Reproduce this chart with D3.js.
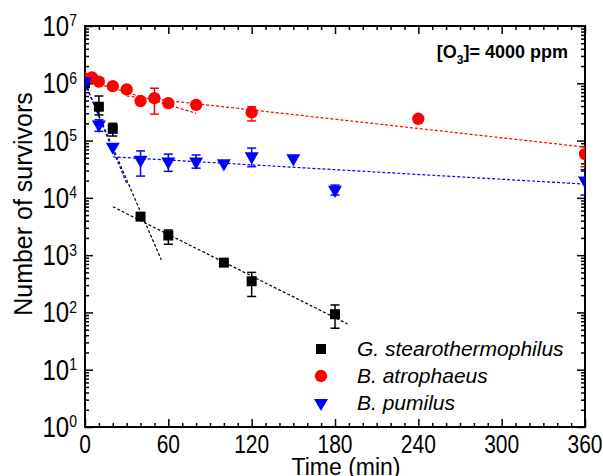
<!DOCTYPE html>
<html>
<head>
<meta charset="utf-8">
<script src="https://cdn.jsdelivr.net/npm/d3@7"></script>
<style>
  body { margin: 0; background: #fff; }
  svg { display: block; font-family: "Liberation Sans", Arial, sans-serif; }
  .axis path, .axis line { stroke: #000; }
</style>
</head>
<body>
<div id="plot"></div>
<script>
// time points (min) and survivor counts
var gTime = [0, 10, 20, 40, 60, 100, 120, 180]
var gN    = [1.0e6, 3.9e5, 1.6e5, 4.7e3, 2.2e3, 7.4e2, 3.5e2, 93]
var gLo   = [null, 2.8e5, 1.2e5, null, 1.55e3, null, 1.9e2, 53]
var gHi   = [null, 6.0e5, 2.0e5, null, 2.75e3, null, 5.0e2, 135]

var aTime = [0, 5, 10, 20, 30, 40, 50, 60, 80, 120, 240, 360]
var aN    = [1.2e6, 1.27e6, 1.07e6, 8.9e5, 7.8e5, 4.9e5, 5.5e5, 4.5e5, 4.2e5, 3.1e5, 2.4e5, 5.8e4]
var aLo   = [null, null, null, null, null, null, 2.9e5, null, null, 2.2e5, null, 3.5e4]
var aHi   = [null, null, null, null, null, null, 8.2e5, null, null, 3.9e5, null, 7.8e4]

var pTime = [0, 10, 20, 40, 60, 80, 100, 120, 150, 180, 360]
var pN    = [1.07e6, 1.9e5, 7.8e4, 4.6e4, 4.3e4, 4.3e4, 4.0e4, 5.3e4, 4.9e4, 1.38e4, 2.0e4]
var pLo   = [null, 1.45e5, null, 2.4e4, 2.9e4, 3.3e4, null, 3.5e4, null, 1.12e4, 1.12e4]
var pHi   = [null, 2.3e5, null, 6.6e4, 5.8e4, 5.6e4, null, 7.4e4, null, 1.67e4, 3.1e4]

// fitted lines, [time, N] end points
var gFits = [[[0, 1.0e6], [55, 8.2e2]], [[20, 7.0e3], [189, 63]]]
var aFits = [[[0, 1.15e6], [80, 3.0e5]], [[30, 6.0e5], [360, 7.7e4]]]
var pFits = [[[0, 1.0e6], [30, 1.8e4]], [[20, 5.2e4], [360, 1.74e4]]]

var xTicks = [0, 60, 120, 180, 240, 300, 360]
var yExp = [0, 1, 2, 3, 4, 5, 6, 7]
var names = ["G. stearothermophilus", "B. atrophaeus", "B. pumilus"]

function pack(t, n, lo, hi) {
    return t.map(function(d, i) { return { t: d, n: n[i], lo: lo[i], hi: hi[i] } })
}

var series = [
    { name: names[1], color: "#ff0000", shape: d3.symbolCircle, size: 120, pts: pack(aTime, aN, aLo, aHi), fits: aFits },
    { name: names[0], color: "#000000", shape: d3.symbolSquare, size: 100, pts: pack(gTime, gN, gLo, gHi), fits: gFits },
    { name: names[2], color: "#0000ff", shape: d3.symbolTriangle, size: 85, pts: pack(pTime, pN, pLo, pHi), fits: pFits }
]

var w = 603
var h = 476
// plot frame edges
var pLeft = 85, pRight = 585, pTop = 26, pBottom = 427
// tick labels are a little taller than wide in the original
var stretch = 1.2

var svg = d3.select("#plot").append("svg").attr("width", w).attr("height", h)

var x = d3.scaleLinear().domain([0, 360]).range([pLeft, pRight])
var y = d3.scaleLog().domain([1, 1e7]).range([pBottom, pTop])

// minor ticks
var xMinor = d3.range(0, 361, 10).filter(function(d) { return d % 60 != 0 })
var yMinor = []
yExp.slice(0, -1).forEach(function(e) {
    for (var k = 2; k < 10; k++) yMinor.push(k * Math.pow(10, e))
})
var yMajor = yExp.map(function(e) { return Math.pow(10, e) })

function axisGroup(axis, tr) {
    var g = svg.append("g").attr("class", "axis").attr("transform", tr).call(axis)
    g.selectAll("text").remove()
    g.select(".domain").remove()
    g.selectAll("line").attr("stroke-width", 1.5)
    return g
}

axisGroup(d3.axisBottom(x).tickValues(xTicks).tickSize(-8).tickSizeOuter(0), "translate(0," + pBottom + ")")
axisGroup(d3.axisBottom(x).tickValues(xMinor).tickSize(-4).tickSizeOuter(0), "translate(0," + pBottom + ")")
axisGroup(d3.axisTop(x).tickValues(xTicks).tickSize(-8).tickSizeOuter(0), "translate(0," + pTop + ")")
axisGroup(d3.axisTop(x).tickValues(xMinor).tickSize(-4).tickSizeOuter(0), "translate(0," + pTop + ")")
axisGroup(d3.axisLeft(y).tickValues(yMajor).tickSize(-8).tickSizeOuter(0), "translate(" + pLeft + ",0)")
axisGroup(d3.axisLeft(y).tickValues(yMinor).tickSize(-4).tickSizeOuter(0), "translate(" + pLeft + ",0)")
axisGroup(d3.axisRight(y).tickValues(yMajor).tickSize(-8).tickSizeOuter(0), "translate(" + pRight + ",0)")
axisGroup(d3.axisRight(y).tickValues(yMinor).tickSize(-4).tickSizeOuter(0), "translate(" + pRight + ",0)")

// frame
svg.append("rect")
    .attr("x", pLeft).attr("y", pTop)
    .attr("width", pRight - pLeft).attr("height", pBottom - pTop)
    .attr("fill", "none").attr("stroke", "#000").attr("stroke-width", 2)

// x tick labels
svg.selectAll(".xlab").data(xTicks).enter().append("text")
    .attr("class", "xlab")
    .attr("transform", function(d) { return "translate(" + x(d) + "," + (pBottom + 26) + ") scale(1," + stretch + ")" })
    .attr("text-anchor", "middle")
    .attr("font-size", 21)
    .text(function(d) { return d })

// y tick labels 10^n
var ylab = svg.selectAll(".ylab").data(yExp).enter().append("text")
    .attr("class", "ylab")
    .attr("transform", function(d) { return "translate(" + (pLeft - 8) + "," + (y(Math.pow(10, d)) + 10) + ") scale(1," + stretch + ")" })
    .attr("text-anchor", "end")
    .attr("font-size", 24)
ylab.append("tspan").text("10")
ylab.append("tspan").attr("font-size", 14).attr("dy", -8).text(function(d) { return d })

// axis titles
svg.append("text")
    .attr("text-anchor", "middle")
    .attr("transform", "translate(32,204) rotate(-90)")
    .attr("font-size", 25)
    .text("Number of survivors")

svg.append("text")
    .attr("text-anchor", "middle")
    .attr("x", 346).attr("y", 475)
    .attr("font-size", 23)
    .text("Time (min)")

// annotation
var ann = svg.append("text")
    .attr("x", 568).attr("y", 58)
    .attr("text-anchor", "end")
    .attr("font-size", 18)
    .attr("font-weight", "bold")
ann.append("tspan").text("[O")
ann.append("tspan").attr("font-size", 12).attr("dy", 6).text("3")
ann.append("tspan").attr("dy", -6).text("]= 4000 ppm")

// data layer clipped to the frame
svg.append("clipPath").attr("id", "clip")
    .append("rect").attr("x", pLeft).attr("y", pTop)
    .attr("width", pRight - pLeft).attr("height", pBottom - pTop)
var plot = svg.append("g").attr("clip-path", "url(#clip)")

// fit lines
series.forEach(function(s) {
    plot.selectAll(null).data(s.fits).enter().append("line")
        .attr("x1", function(d) { return x(d[0][0]) })
        .attr("y1", function(d) { return y(d[0][1]) })
        .attr("x2", function(d) { return x(d[1][0]) })
        .attr("y2", function(d) { return y(d[1][1]) })
        .attr("stroke", s.color)
        .attr("stroke-width", 1.2)
        .attr("stroke-dasharray", "3,2")
})

// error bars and markers
series.forEach(function(s) {
    var eb = s.pts.filter(function(d) { return d.lo != null })
    var g = plot.append("g").attr("stroke", s.color).attr("stroke-width", 1.5)
    g.selectAll(null).data(eb).enter().append("line")
        .attr("x1", function(d) { return x(d.t) }).attr("x2", function(d) { return x(d.t) })
        .attr("y1", function(d) { return y(d.lo) }).attr("y2", function(d) { return y(d.hi) })
    g.selectAll(null).data(eb).enter().append("line")
        .attr("x1", function(d) { return x(d.t) - 4.5 }).attr("x2", function(d) { return x(d.t) + 4.5 })
        .attr("y1", function(d) { return y(d.lo) }).attr("y2", function(d) { return y(d.lo) })
    g.selectAll(null).data(eb).enter().append("line")
        .attr("x1", function(d) { return x(d.t) - 4.5 }).attr("x2", function(d) { return x(d.t) + 4.5 })
        .attr("y1", function(d) { return y(d.hi) }).attr("y2", function(d) { return y(d.hi) })

    var flip = s.shape == d3.symbolTriangle ? " rotate(180)" : ""
    plot.selectAll(null).data(s.pts).enter().append("path")
        .attr("d", d3.symbol().type(s.shape).size(s.size))
        .attr("transform", function(d) { return "translate(" + x(d.t) + "," + y(d.n) + ")" + flip })
        .attr("fill", s.color)
})

// legend
var legend = [
    { name: names[0], color: "#000000", shape: d3.symbolSquare, size: 100 },
    { name: names[1], color: "#ff0000", shape: d3.symbolCircle, size: 120 },
    { name: names[2], color: "#0000ff", shape: d3.symbolTriangle, size: 85 }
]
legend.forEach(function(d, i) {
    var cy = 349 + i * 27
    svg.append("path")
        .attr("d", d3.symbol().type(d.shape).size(d.size))
        .attr("transform", "translate(321," + cy + ")" + (d.shape == d3.symbolTriangle ? " rotate(180)" : ""))
        .attr("fill", d.color)
    svg.append("text")
        .attr("x", 357).attr("y", cy + 7)
        .attr("font-size", 21)
        .attr("font-style", "italic")
        .text(d.name)
})
</script>
</body>
</html>
